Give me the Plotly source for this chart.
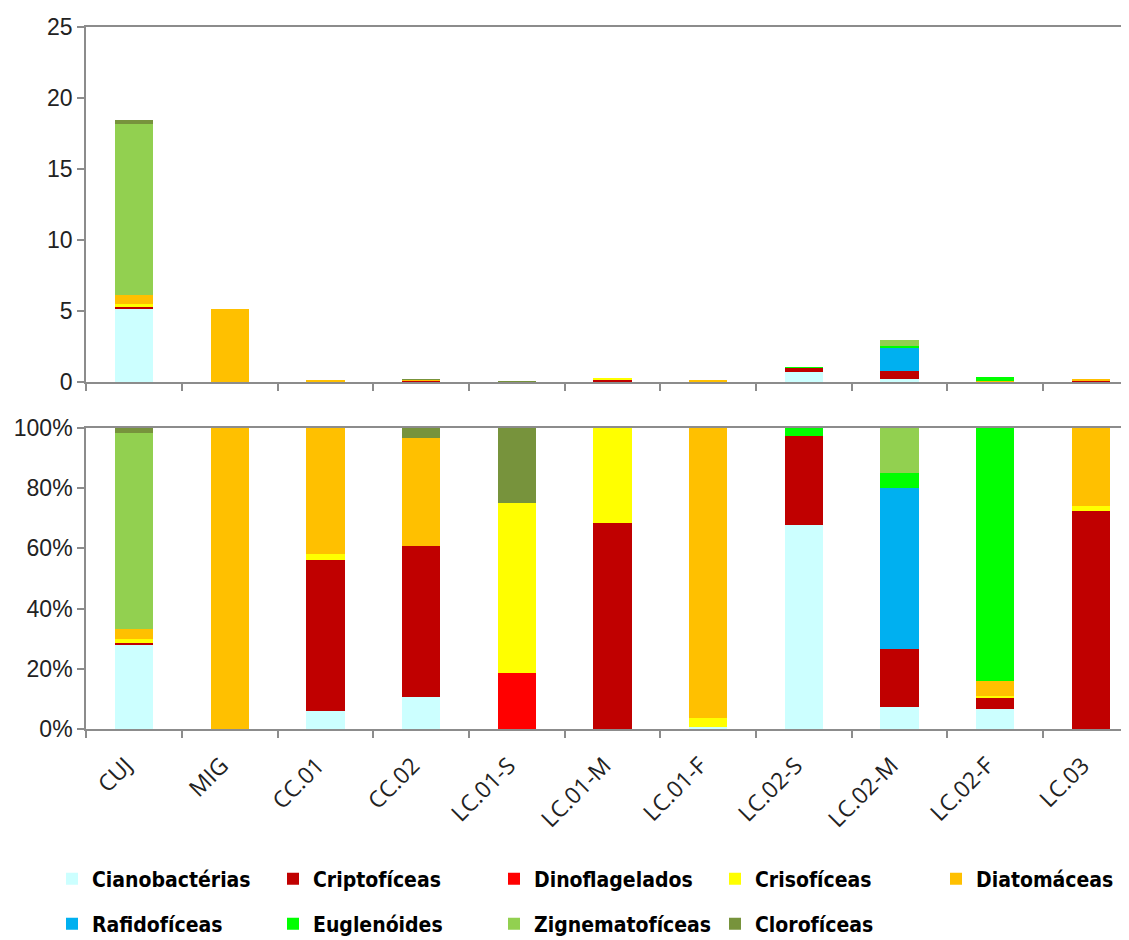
import plotly.graph_objects as go
from plotly.subplots import make_subplots

categories = ["CUJ", "MIG", "CC.01", "CC.02", "LC.01-S", "LC.01-M", "LC.01-F",
              "LC.02-S", "LC.02-M", "LC.02-F", "LC.03"]

# total density per station (upper panel)
totals = [18.45, 5.12, 0.08, 0.18, 0.06, 0.30, 0.15, 1.03, 2.96, 0.37, 0.17]

# relative composition per station, % (lower panel)
groups = ["Cianobactérias", "Criptofíceas", "Dinoflagelados", "Crisofíceas", "Diatomáceas",
          "Rafidofíceas", "Euglenóides", "Zignematofíceas", "Clorofíceas"]
cianobacterias  = [28.2, 0, 6.0, 10.5, 0, 0, 0.8, 67.8, 7.2, 6.5, 0]
criptoficeas    = [0.5, 0, 50.1, 50.3, 0, 68.5, 0, 29.5, 19.3, 3.7, 72.5]
dinoflagelados  = [0, 0, 0, 0, 18.5, 0, 0, 0, 0, 0, 0]
crisoficeas     = [1.1, 0, 1.9, 0, 56.5, 31.5, 2.7, 0, 0, 0.8, 1.6]
diatomaceas     = [3.3, 100, 42.0, 35.8, 0, 0, 96.5, 0, 0, 4.9, 25.9]
rafidoficeas    = [0, 0, 0, 0, 0, 0, 0, 0, 53.7, 0, 0]
euglenoides     = [0, 0, 0, 0, 0, 0, 0, 2.7, 4.9, 84.1, 0]
zignematoficeas = [65.2, 0, 0, 0, 0, 0, 0, 0, 14.9, 0, 0]
cloroficeas     = [1.7, 0, 0, 3.4, 25.0, 0, 0, 0, 0, 0, 0]

series = [cianobacterias, criptoficeas, dinoflagelados, crisoficeas, diatomaceas,
          rafidoficeas, euglenoides, zignematoficeas, cloroficeas]
colors = ["#CCFFFF", "#C00000", "#FF0000", "#FFFF00", "#FFC000",
          "#00B0F0", "#00FF00", "#92D050", "#77933C"]

# page has an 8px body margin; figure sized so the page fits the window
OFF = 8
W, H = 1129 - OFF, 940 - OFF


def py(page_y):
    return 1 - (page_y - OFF) / H


def px(page_x):
    return (page_x - OFF) / W


fig = make_subplots(rows=2, cols=1)

for i, (name, pct, col) in enumerate(zip(groups, series, colors)):
    absval = [p * t / 100.0 for p, t in zip(pct, totals)]
    leg = "legend" if i < 5 else "legend2"
    fig.add_trace(go.Bar(x=categories, y=absval, name=name, marker_color=col,
                         marker_line_width=0, legend=leg, showlegend=True,
                         legendgroup=name), row=1, col=1)
    fig.add_trace(go.Bar(x=categories, y=pct, name=name, marker_color=col,
                         marker_line_width=0, legend=leg, showlegend=False,
                         legendgroup=name), row=2, col=1)

axis_col = "#8c8c8c"
tick_font = dict(family="Liberation Sans, Arial, sans-serif", size=23, color="#222222")
xrange = [-0.5, 10.40]

common_x = dict(range=xrange, showline=True, linecolor=axis_col, linewidth=2,
                ticks="outside", tickson="boundaries", ticklen=7, tickcolor=axis_col,
                tickwidth=2, showgrid=False, zeroline=False, domain=[px(86.2), 1.0])

legend_font = dict(family="DejaVu Sans Condensed, sans-serif",
                   size=21, color="#000000", weight="bold")

fig.update_layout(
    width=W, height=H,
    margin=dict(l=0, r=0, t=0, b=0, autoexpand=False),
    barmode="stack", bargap=0.6,
    plot_bgcolor="white", paper_bgcolor="white",
    xaxis=dict(**common_x, showticklabels=False, mirror=True),
    yaxis=dict(domain=[py(382), py(27)], range=[0, 25], dtick=5,
               showline=True, linecolor=axis_col, linewidth=2, ticks="outside",
               ticklen=7, tickcolor=axis_col, tickwidth=2, showgrid=False,
               zeroline=False, tickfont=tick_font),
    xaxis2=dict(**common_x, showticklabels=True, tickangle=-45, mirror=True,
                ticklabelstandoff=12, ticklabelshift=-8,
                tickfont=dict(family="Open Sans, DejaVu Sans, sans-serif", size=23,
                              color="#222222")),
    yaxis2=dict(domain=[py(729), py(428)], range=[0, 100], dtick=20,
                ticksuffix="%", showline=True, linecolor=axis_col, linewidth=2,
                ticks="outside", ticklen=7, tickcolor=axis_col, tickwidth=2,
                showgrid=False, zeroline=False, tickfont=tick_font),
    legend=dict(orientation="h", x=px(52), y=py(879), xanchor="left",
                yanchor="middle", traceorder="normal", entrywidth=176,
                font=legend_font, bgcolor="rgba(0,0,0,0)"),
    legend2=dict(orientation="h", x=px(52), y=py(924), xanchor="left",
                 yanchor="middle", traceorder="normal", entrywidth=176,
                 font=legend_font, bgcolor="rgba(0,0,0,0)"),
)

fig.write_html("out.html")
